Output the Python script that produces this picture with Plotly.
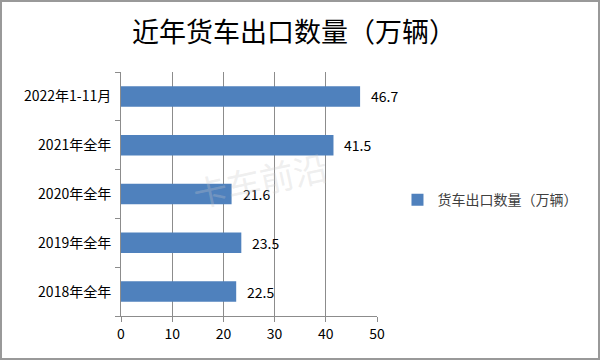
import plotly.graph_objects as go

categories = ["2018年全年", "2019年全年", "2020年全年", "2021年全年", "2022年1-11月"]
values = [22.5, 23.5, 21.6, 41.5, 46.7]
series_name = "货车出口数量（万辆）"
title_text = "近年货车出口数量（万辆）"
x_ticks = [0, 10, 20, 30, 40, 50]

FONT = "Noto Sans CJK SC"
BLUE = "#4F81BD"

fig = go.Figure()
fig.add_trace(go.Bar(
    y=categories, x=values, orientation="h",
    name=series_name, marker=dict(color=BLUE, line=dict(width=0)),
    showlegend=True,
))

for c, v in zip(categories, values):
    fig.add_annotation(x=v, y=c, text=f"{v:.1f}", showarrow=False,
                       xanchor="left", xshift=9, font=dict(size=14, color="#000000", family=FONT))

# watermark
fig.add_annotation(xref="paper", yref="paper", x=0.83, y=0.56, text="卡车前沿", showarrow=False,
                   textangle=-12, font=dict(size=34, color="rgba(200,200,200,0.3)", family=FONT))

L, R, T, B = 121, 223, 72, 44
W, H = 600, 360
pw, ph = W - L - R, H - T - B
fig.add_shape(type="rect", xref="paper", yref="paper",
              x0=(1 - L) / pw, x1=(W - 1 - L) / pw,
              y0=-(H - 1 - T - ph) / ph, y1=(H - 1 - B) / ph,
              line=dict(color="#999999", width=2), layer="below")

fig.update_layout(
    width=W, height=H,
    margin=dict(l=L, r=R, t=T, b=B, pad=0),
    paper_bgcolor="white", plot_bgcolor="white",
    title=dict(text=title_text, x=0.49, xanchor="center", y=0.91, yanchor="middle",
               font=dict(size=27, family=FONT, color="#000000")),
    bargap=0.58,
    font=dict(family=FONT, size=14, color="#000000"),
    legend=dict(x=1.08, y=0.475, xanchor="left", yanchor="middle",
                font=dict(size=14, color="#404040", family=FONT), bgcolor="rgba(0,0,0,0)"),
    xaxis=dict(range=[0, 50], tickvals=x_ticks, showgrid=True, gridcolor="#8c8c8c", gridwidth=1,
               showline=True, linecolor="#8c8c8c", linewidth=1, ticks="outside", ticklen=5,
               tickcolor="#8c8c8c", zeroline=False, tickfont=dict(size=14, family=FONT)),
    yaxis=dict(categoryorder="array", categoryarray=categories, showline=True, linecolor="#8c8c8c",
               linewidth=1, ticks="outside", tickson="boundaries", ticklen=5, tickcolor="#8c8c8c",
               ticklabelstandoff=6, tickfont=dict(size=14, family=FONT)),
)

fig.write_html("out.html", config={"displayModeBar": False},
               post_script="document.body.style.margin='0';document.body.style.overflow='hidden';")
